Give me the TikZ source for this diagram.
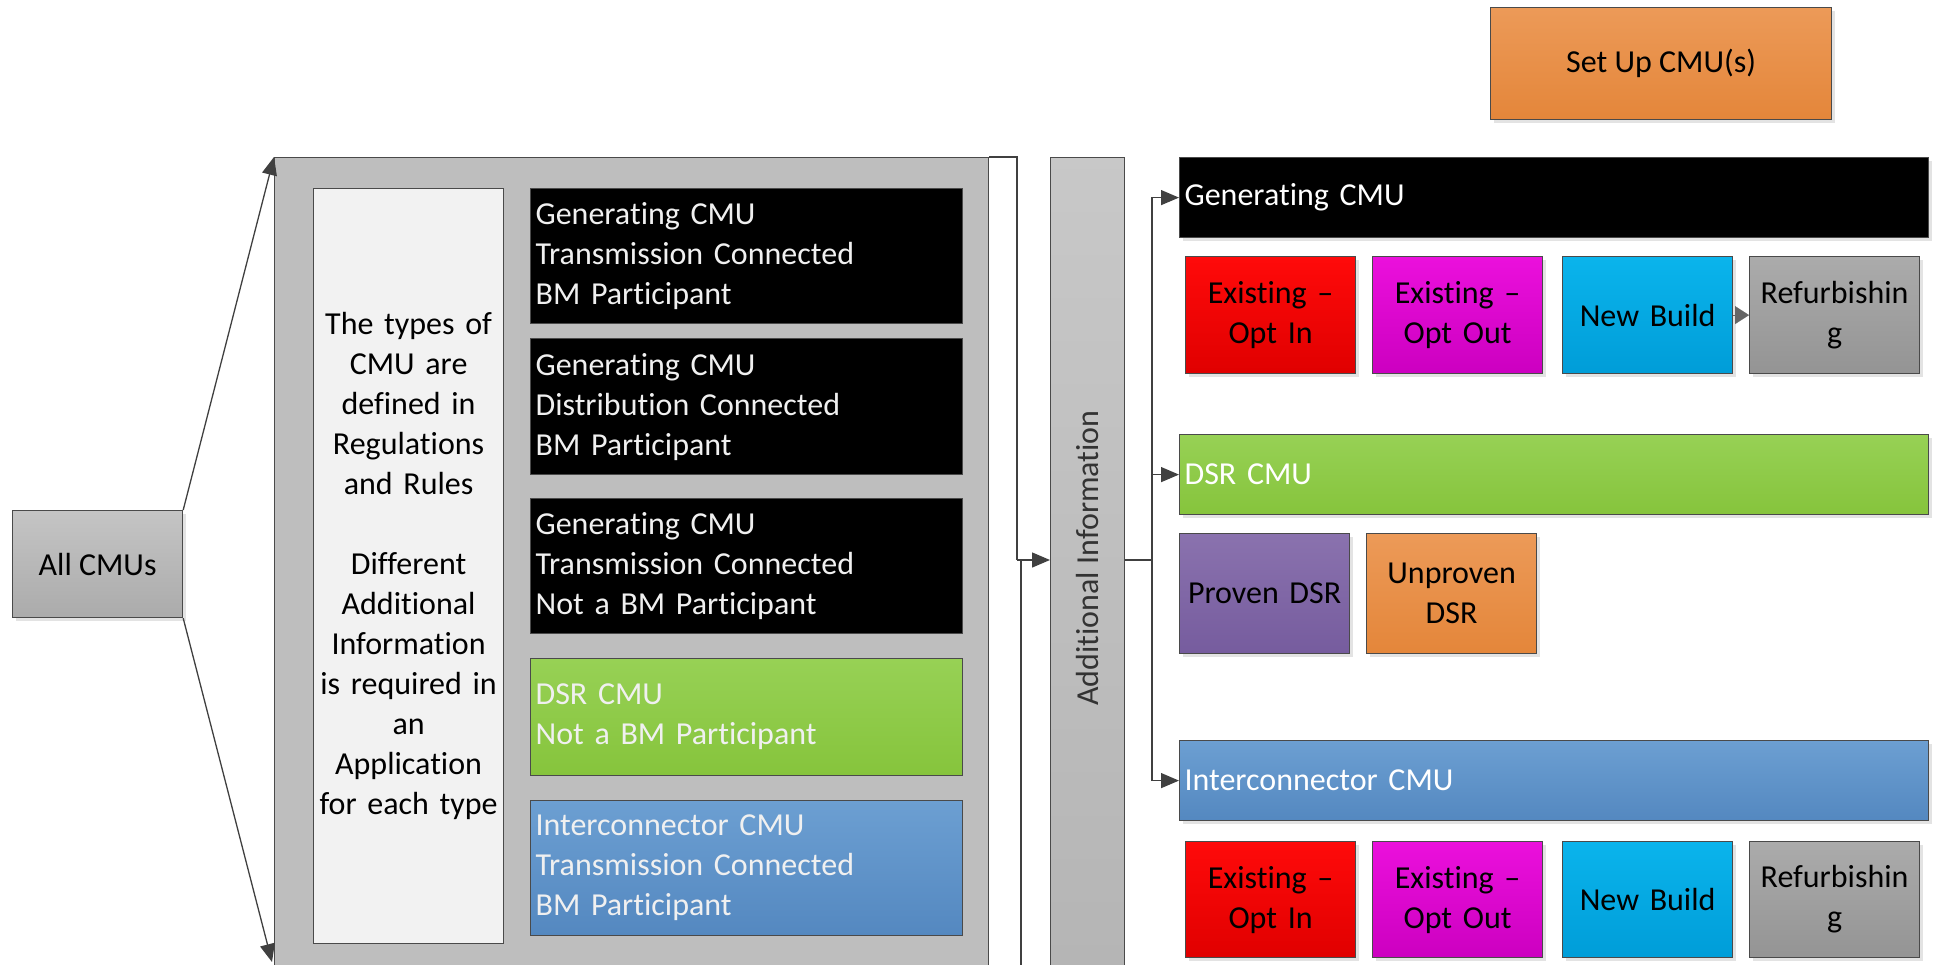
\documentclass[tikz,border=0pt]{standalone}
\usepackage{fontspec}
\setmainfont{Carlito}[Ligatures=NoCommon]
\usetikzlibrary{arrows.meta,shadows}
\definecolor{edge}{HTML}{4A4A4A}
\definecolor{conn}{HTML}{404040}
\definecolor{panel}{HTML}{BEBEBE}
\definecolor{paper}{HTML}{F2F2F2}
\definecolor{gen}{HTML}{000000}
\definecolor{dsrA}{HTML}{97D155}
\definecolor{dsrB}{HTML}{86C43C}
\definecolor{icA}{HTML}{6C9FD2}
\definecolor{icB}{HTML}{5488C0}
\definecolor{redA}{HTML}{FF0A0A}
\definecolor{redB}{HTML}{E00000}
\definecolor{magA}{HTML}{EB10DC}
\definecolor{magB}{HTML}{CC00C0}
\definecolor{cyaA}{HTML}{0AB4EC}
\definecolor{cyaB}{HTML}{009DD8}
\definecolor{gryA}{HTML}{ABABAB}
\definecolor{gryB}{HTML}{949494}
\definecolor{purA}{HTML}{8A72AE}
\definecolor{purB}{HTML}{765C9E}
\definecolor{orgA}{HTML}{EC9A58}
\definecolor{orgB}{HTML}{E4863A}
\definecolor{lighttxt}{HTML}{F0F0F0}
\newcommand{\fs}{\fontsize{32}{40}\selectfont}
\tikzset{
  boxbase/.style={draw=edge, line width=1.2pt, anchor=north west, inner sep=5pt,
    font=\fs, drop shadow={shadow xshift=3pt, shadow yshift=-3pt, opacity=0.22}},
  flat/.style={draw=edge, line width=1.2pt, anchor=north west, inner sep=5pt, font=\fs},
  smallbox/.style={boxbase, minimum width=170pt, align=center, text width=160pt},
  bar/.style={boxbase, minimum width=749pt, minimum height=80pt, align=left,
    text width=739pt, inner sep=3pt, text=white},
  link/.style={draw=conn, line width=1.3pt},
  tip/.style={link, -{Triangle[length=18pt,width=15pt]}},
}
\begin{document}
\begin{tikzpicture}[x=1pt,y=-1pt]
\useasboundingbox (0,0) rectangle (1936,965);
\clip (0,0) rectangle (1936,965);

% top box
\node[boxbase, minimum width=341pt, minimum height=112pt, top color=orgA, bottom color=orgB]
  (setup) at (1490,7) {Set Up CMU(s)};

% left
\node[boxbase, minimum width=170pt, minimum height=107pt, top color=panel!90!white, bottom color=panel!90!black]
  (all) at (12,510) {All CMUs};

\node[flat, fill=panel, minimum width=714pt, minimum height=830pt] (big) at (274,157) {};
\coordinate (bigbl) at (272,962);

\node[flat, fill=paper, minimum width=190pt, minimum height=755pt, align=center, text width=178pt]
  (info) at (313,188) {The types of\\CMU are\\defined in\\Regulations\\and Rules\\[40pt]Different\\Additional\\Information\\is required in\\an\\Application\\for each type};

\node[flat, fill=gen, text=lighttxt, minimum width=432pt, minimum height=135pt, align=left, text width=422pt]
  (t1) at (530,188) {Generating CMU\\Transmission Connected\\BM Participant};
\node[flat, fill=gen, text=lighttxt, minimum width=432pt, minimum height=136pt, align=left, text width=422pt]
  (t2) at (530,338) {Generating CMU\\Distribution Connected\\BM Participant};
\node[flat, fill=gen, text=lighttxt, minimum width=432pt, minimum height=135pt, align=left, text width=422pt]
  (t3) at (530,498) {Generating CMU\\Transmission Connected\\Not a BM Participant};
\node[flat, top color=dsrA, bottom color=dsrB, text=lighttxt, minimum width=432pt, minimum height=117pt, align=left, text width=422pt]
  (t4) at (530,658) {DSR CMU\\Not a BM Participant};
\node[flat, top color=icA, bottom color=icB, text=lighttxt, minimum width=432pt, minimum height=135pt, align=left, text width=422pt]
  (t5) at (530,800) {Interconnector CMU\\Transmission Connected\\BM Participant};

% additional information bar
\node[flat, top color=panel!85!white, bottom color=panel!95!black, minimum width=74pt, minimum height=830pt]
  (addl) at (1050,157) {};
\node[rotate=90, font=\fs, text=black!80] (addltxt) at (1087,558) {Additional Information};

% right bars
\node[bar, fill=gen] (gbar) at (1179,157) {Generating CMU};
\node[bar, top color=dsrA, bottom color=dsrB] (dbar) at (1179,434) {DSR CMU};
\node[bar, top color=icA, bottom color=icB] (ibar) at (1179,740) {Interconnector CMU};

% row 1
\node[smallbox, minimum height=117pt, top color=redA, bottom color=redB] (r1) at (1185,256) {Existing --\\Opt In};
\node[smallbox, minimum height=117pt, top color=magA, bottom color=magB] (m1) at (1372,256) {Existing --\\Opt Out};
\node[smallbox, minimum height=117pt, top color=cyaA, bottom color=cyaB] (c1) at (1562,256) {New Build};
\node[smallbox, minimum height=117pt, top color=gryA, bottom color=gryB] (g1) at (1749,256) {Refurbishin\\g};

% dsr row
\node[smallbox, minimum height=120pt, top color=purA, bottom color=purB] (pd) at (1179,533) {Proven DSR};
\node[smallbox, minimum height=120pt, top color=orgA, bottom color=orgB] (ud) at (1366,533) {Unproven\\DSR};

% row 2
\node[smallbox, minimum height=116pt, top color=redA, bottom color=redB] (r2) at (1185,841) {Existing --\\Opt In};
\node[smallbox, minimum height=116pt, top color=magA, bottom color=magB] (m2) at (1372,841) {Existing --\\Opt Out};
\node[smallbox, minimum height=116pt, top color=cyaA, bottom color=cyaB] (c2) at (1562,841) {New Build};
\node[smallbox, minimum height=116pt, top color=gryA, bottom color=gryB] (g2) at (1749,841) {Refurbishin\\g};

% connectors
\draw[tip] (all.north east) -- (big.north west);
\draw[tip] (all.south east) -- (bigbl);

\coordinate (ctop) at (1017,157);
\coordinate (j1) at (1017,560);
\coordinate (j2) at (1021,560);
\coordinate (jb) at (1021,970);
\draw[link] (big.north east) -- (ctop) -- (j1);
\draw[tip] (j1) -- (j1 -| addl.west);
\draw[link] (j2) -- (jb);

\coordinate (sp) at (1152,560);
\draw[link] (addl.east |- sp) -- (sp);
\draw[tip] (sp) |- (gbar.west);
\draw[tip] (sp) |- (dbar.west);
\draw[tip] (sp) |- (ibar.west);

\draw[draw=gray!80!black, -{Triangle[length=14pt,width=18pt]}, line width=0.1pt] (c1.east) -- (g1.west);
\end{tikzpicture}
\end{document}
